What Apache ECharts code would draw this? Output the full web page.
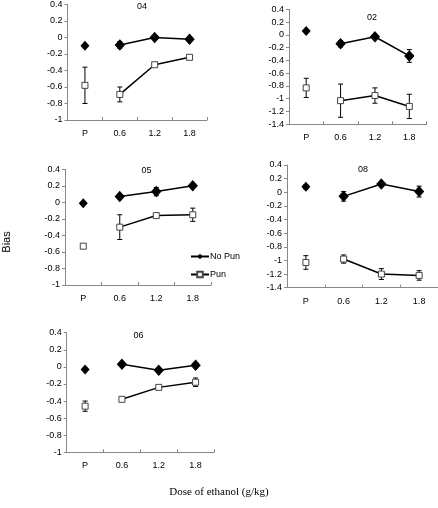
<!DOCTYPE html>
<html><head><meta charset="utf-8">
<script src="https://cdn.jsdelivr.net/npm/echarts@6/dist/echarts.min.js"></script>
<style>html,body{margin:0;padding:0;background:#fff}#c{width:438px;height:508px}</style>
</head><body><div id="c"></div>
<script>
var categories = ['P', '0.6', '1.2', '1.8'];
var panelIds = ['04', '02', '05', '08', '06'];

var noPun04 = [-0.10, -0.09, 0.00, -0.02];
var noPun04Err = [0.01, 0.04, 0.01, 0.01];
var pun04 = [-0.58, -0.69, -0.33, -0.24];
var pun04Err = [0.22, 0.09, 0.02, 0.01];

var noPun02 = [0.06, -0.14, -0.03, -0.33];
var noPun02Err = [0.01, 0.05, 0.03, 0.10];
var pun02 = [-0.83, -1.03, -0.95, -1.12];
var pun02Err = [0.15, 0.26, 0.12, 0.19];

var noPun05 = [-0.01, 0.07, 0.13, 0.20];
var noPun05Err = [0.01, 0.01, 0.05, 0.01];
var pun05 = [-0.53, -0.30, -0.16, -0.15];
var pun05Err = [0.02, 0.15, 0.02, 0.08];

var noPun08 = [0.08, -0.06, 0.12, 0.01];
var noPun08Err = [0.03, 0.07, 0.02, 0.08];
var pun08 = [-1.03, -0.98, -1.20, -1.22];
var pun08Err = [0.10, 0.06, 0.08, 0.07];

var noPun06 = [-0.03, 0.03, -0.04, 0.02];
var noPun06Err = [0.01, 0.02, 0.02, 0.03];
var pun06 = [-0.46, -0.38, -0.24, -0.18];
var pun06Err = [0.06, 0.01, 0.01, 0.05];

var yMins = [-1, -1.4, -1, -1.4, -1];
var yMax = 0.4;

var panelData = [
  [noPun04, noPun04Err, pun04, pun04Err],
  [noPun02, noPun02Err, pun02, pun02Err],
  [noPun05, noPun05Err, pun05, pun05Err],
  [noPun08, noPun08Err, pun08, pun08Err],
  [noPun06, noPun06Err, pun06, pun06Err]
];

// layout: [left, right, top, bottom] in px
var boxes = [
  [67.5, 207, 4, 120],
  [289, 426.5, 9.3, 124.3],
  [65, 211, 169.3, 285],
  [287, 438, 165, 287.7],
  [66.7, 214, 332.7, 452.3]
];
var titlePos = [[142, 7], [372, 18], [146.5, 171], [363, 169.5], [138.5, 336]];

var axisColor = '#888';
var font = 'Liberation Sans, Arial, sans-serif';

var grids = [], xAxes = [], yAxes = [], series = [], graphics = [];

function errData(vals, errs) {
  var out = [];
  for (var i = 0; i < vals.length; i++) {
    if (errs[i] > 0) out.push([i, vals[i] - errs[i], vals[i] + errs[i]]);
  }
  return out;
}
function errSeries(idx, vals, errs) {
  return {
    type: 'custom', xAxisIndex: idx, yAxisIndex: idx, z: 3, silent: true,
    renderItem: function (params, api) {
      var lo = api.coord([api.value(0), api.value(1)]);
      var hi = api.coord([api.value(0), api.value(2)]);
      var w = 2.5;
      var st = { stroke: '#000', lineWidth: 1 };
      return { type: 'group', children: [
        { type: 'line', shape: { x1: lo[0], y1: lo[1], x2: hi[0], y2: hi[1] }, style: st },
        { type: 'line', shape: { x1: lo[0] - w, y1: lo[1], x2: lo[0] + w, y2: lo[1] }, style: st },
        { type: 'line', shape: { x1: hi[0] - w, y1: hi[1], x2: hi[0] + w, y2: hi[1] }, style: st }
      ]};
    },
    encode: { x: 0, y: [1, 2] },
    data: errData(vals, errs)
  };
}

for (var p = 0; p < 5; p++) {
  var b = boxes[p];
  grids.push({ left: b[0], width: b[1] - b[0], top: b[2], height: b[3] - b[2], containLabel: false });
  xAxes.push({
    type: 'category', gridIndex: p, data: categories, boundaryGap: true,
    axisLine: { onZero: false, lineStyle: { color: axisColor, width: 1 } },
    axisTick: { show: true, length: 3, inside: true, alignWithLabel: false, lineStyle: { color: axisColor } },
    axisLabel: { fontSize: 9, fontFamily: font, color: '#000', margin: 9 },
    splitLine: { show: false }
  });
  yAxes.push({
    type: 'value', gridIndex: p, min: yMins[p], max: yMax, interval: 0.2,
    axisLine: { show: true, lineStyle: { color: axisColor, width: 1 } },
    axisTick: { show: true, length: 3, lineStyle: { color: axisColor } },
    axisLabel: { fontSize: 9, fontFamily: font, color: '#000', margin: 5,
      formatter: function (v) { var r = Math.round(v * 10) / 10; return r === 0 ? '0' : String(r); } },
    splitLine: { show: false }
  });
  graphics.push({ type: 'text', x: titlePos[p][0], y: titlePos[p][1], z: 10,
    style: { text: panelIds[p], font: '9px "Liberation Sans", Arial, sans-serif', fill: '#000', align: 'center', verticalAlign: 'middle' } });

  var d = panelData[p];
  var np = d[0], npe = d[1], pu = d[2], pue = d[3];
  var nameN = p === 2 ? 'No Pun' : 'NoPun_' + p;
  var nameP = p === 2 ? 'Pun' : 'Pun_' + p;
  series.push(errSeries(p, np, npe));
  series.push(errSeries(p, pu, pue));
  series.push({
    name: nameP, type: 'line', xAxisIndex: p, yAxisIndex: p, z: 4,
    data: ['-', pu[1], pu[2], pu[3]],
    symbol: 'rect', symbolSize: 6, showAllSymbol: true,
    lineStyle: { color: '#000', width: 1.5 },
    itemStyle: { color: '#fff', borderColor: '#444', borderWidth: 1 }
  });
  series.push({
    name: 'PunP_' + p, type: 'scatter', xAxisIndex: p, yAxisIndex: p, z: 4,
    data: [pu[0], '-', '-', '-'],
    symbol: 'rect', symbolSize: 6,
    itemStyle: { color: '#fff', borderColor: '#444', borderWidth: 1, opacity: 1 }
  });
  series.push({
    name: nameN, type: 'line', xAxisIndex: p, yAxisIndex: p, z: 5,
    data: ['-', np[1], np[2], np[3]],
    symbol: 'diamond', symbolSize: [9, 10], showAllSymbol: true,
    lineStyle: { color: '#000', width: 1.5 },
    itemStyle: { color: '#000', borderColor: '#000' }
  });
  series.push({
    name: 'NoPunP_' + p, type: 'scatter', xAxisIndex: p, yAxisIndex: p, z: 5,
    data: [np[0], '-', '-', '-'],
    symbol: 'diamond', symbolSize: [9, 10],
    itemStyle: { color: '#000', opacity: 1 }
  });
}

graphics.push({ type: 'text', left: 'center', top: 487, style: { text: 'Dose of ethanol (g/kg)', font: '11px "Liberation Serif", "Times New Roman", serif', fill: '#000' } });
graphics.push({ type: 'text', rotation: Math.PI / 2, x: 7, y: 242, style: { text: 'Bias', font: '11px "Liberation Sans", Arial, sans-serif', fill: '#000', align: 'center', verticalAlign: 'middle' } });

var chart = echarts.init(document.getElementById('c'), null, { renderer: 'canvas' });
chart.setOption({
  animation: false,
  backgroundColor: '#fff',
  grid: grids, xAxis: xAxes, yAxis: yAxes, series: series,
  legend: {
    data: ['No Pun', 'Pun'], orient: 'vertical', left: 185, top: 247,
    itemWidth: 18, itemHeight: 7, itemGap: 9, selectedMode: false,
    textStyle: { fontSize: 9, fontFamily: font, color: '#000', padding: [0, 0, 0, -4] }
  },
  graphic: graphics
});
</script></body></html>
